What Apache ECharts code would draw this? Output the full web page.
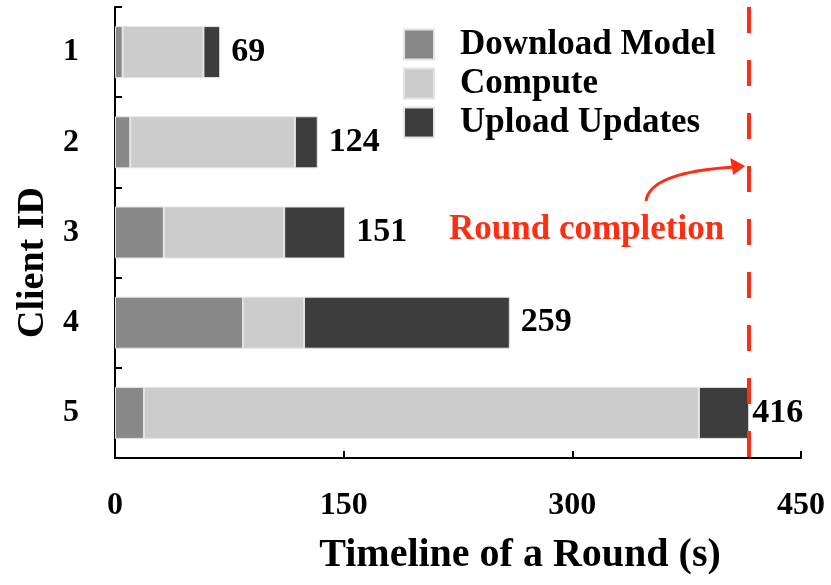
<!DOCTYPE html>
<html>
<head>
<meta charset="utf-8">
<script src="https://cdn.jsdelivr.net/npm/echarts@6/dist/echarts.min.js"></script>
<style>
    html, body { margin: 0; padding: 0; background: #fff; }
    #chart { width: 831px; height: 585px; }
</style>
</head>
<body>
<div id="chart"></div>
<script>
var clients = ['1', '2', '3', '4', '5'];
var downloadModel = [5, 10, 32, 84, 19];
var compute = [53, 108, 79, 40, 364];
var uploadUpdates = [11, 15, 40, 135, 33];
var totals = [69, 124, 151, 259, 416];
var roundEnd = 416;

var font = 'Liberation Serif';
var red = '#ff2d12';

var myChart = echarts.init(document.getElementById('chart'));

var option = {
    animation: false,
    grid: { left: 115, right: 30, top: 7, bottom: 127 },
    legend: {
        orient: 'vertical',
        left: 398,
        top: 22,
        itemWidth: 30,
        itemHeight: 30,
        itemGap: 4,
        icon: 'rect',
        textStyle: {
            fontFamily: font, fontWeight: 'bold', fontSize: 35, color: '#000',
            lineHeight: 30, padding: [0, 0, 0, 21]
        },
        data: ['Download Model', 'Compute', 'Upload Updates']
    },
    xAxis: {
        type: 'value',
        min: 0,
        max: 450,
        interval: 150,
        name: 'Timeline of a Round (s)',
        nameLocation: 'middle',
        nameGap: 78,
        nameTextStyle: {
            fontFamily: font, fontWeight: 'bold', fontSize: 40, color: '#000',
            padding: [0, 0, 0, 124]
        },
        axisLine: { show: true, lineStyle: { color: '#000', width: 2 } },
        axisTick: { show: true, inside: true, length: 7, lineStyle: { color: '#000', width: 2 } },
        axisLabel: { margin: 32, fontFamily: font, fontWeight: 'bold', fontSize: 32, color: '#000' },
        splitLine: { show: false }
    },
    yAxis: {
        type: 'category',
        data: clients,
        inverse: true,
        name: 'Client ID',
        nameLocation: 'middle',
        nameGap: 62,
        nameTextStyle: {
            fontFamily: font, fontWeight: 'bold', fontSize: 38, color: '#000',
            padding: [0, 60, 0, 0]
        },
        axisLine: { show: true, lineStyle: { color: '#000', width: 2 } },
        axisTick: { show: true, inside: true, length: 7, lineStyle: { color: '#000', width: 2 } },
        axisLabel: { margin: 36, fontFamily: font, fontWeight: 'bold', fontSize: 32, color: '#000' }
    },
    series: [{
        name: 'Download Model',
        type: 'bar',
        stack: 'round',
        barWidth: 52,
        itemStyle: { color: '#888888', borderColor: '#e4e4e4', borderWidth: 1 },
        data: downloadModel
    }, {
        name: 'Compute',
        type: 'bar',
        stack: 'round',
        barWidth: 52,
        itemStyle: { color: '#cccccc', borderColor: '#e4e4e4', borderWidth: 1 },
        data: compute
    }, {
        name: 'Upload Updates',
        type: 'bar',
        stack: 'round',
        barWidth: 52,
        itemStyle: { color: '#3d3d3d', borderColor: '#e4e4e4', borderWidth: 1 },
        label: {
            show: true,
            position: 'right',
            distance: 11,
            fontFamily: font, fontWeight: 'bold', fontSize: 34, color: '#000',
            formatter: function (p) { return totals[p.dataIndex]; }
        },
        data: uploadUpdates.map(function (v, i) {
            return i === 4 ? { value: v, label: { distance: 3 } } : v;
        }),
        markLine: {
            silent: true,
            symbol: 'none',
            label: { show: false },
            lineStyle: { color: red, width: 4, type: [26, 27] },
            data: [{ xAxis: roundEnd }]
        }
    }]
};
myChart.setOption(option);

// annotation: arrow pointing at the round completion line
var px = myChart.convertToPixel({ xAxisIndex: 0 }, roundEnd);
myChart.setOption({
    graphic: [{
        type: 'text',
        x: px - 25,
        y: 230,
        style: {
            text: 'Round completion',
            fontFamily: font, fontWeight: 'bold', fontSize: 35, fill: red,
            textAlign: 'right', textVerticalAlign: 'middle'
        }
    }, {
        type: 'bezierCurve',
        shape: { x1: 646, y1: 201, cpx1: 650, cpy1: 172, x2: px - 14, y2: 167 },
        style: { stroke: red, lineWidth: 3, fill: null }
    }, {
        type: 'polygon',
        shape: { points: [[px - 4, 166], [px - 19, 158], [px - 16, 175]] },
        style: { fill: red }
    }]
});
</script>
</body>
</html>
